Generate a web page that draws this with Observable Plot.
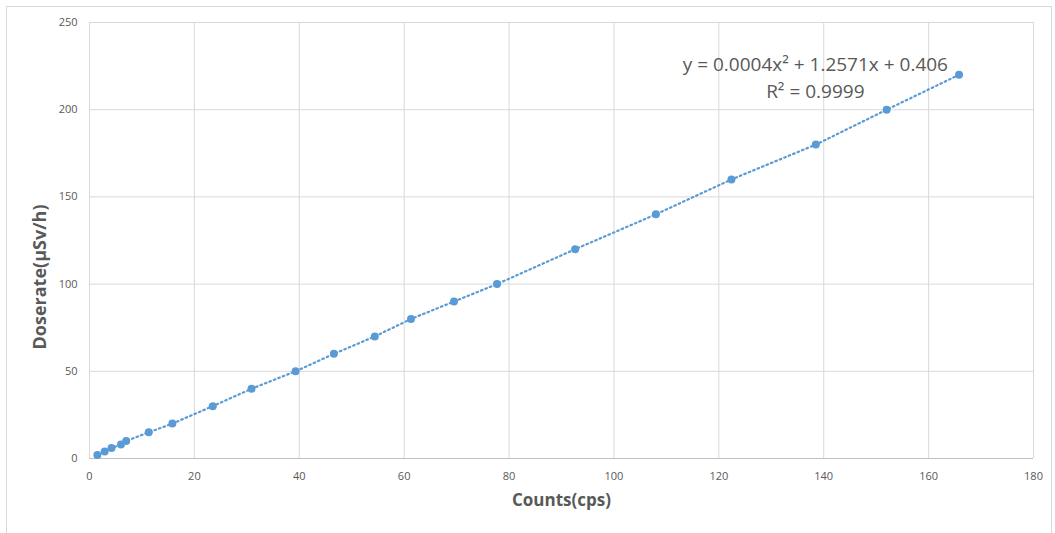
<!DOCTYPE html>
<html>
<head>
<meta charset="utf-8">
<script src="https://cdn.jsdelivr.net/npm/d3@7"></script>
<script src="https://cdn.jsdelivr.net/npm/@observablehq/plot@0.6"></script>
<style>
  html, body { margin: 0; padding: 0; background: #fff; }
  #wrap { position: relative; width: 1055px; height: 533px; }
  #border { position: absolute; left: 6px; top: 6px; width: 1046px; height: 530px; border: 1px solid #d9d9d9; box-sizing: border-box; pointer-events: none; }
</style>
</head>
<body>
<div id="wrap"><div id="border"></div></div>
<script>
const counts = [1.5, 2.9, 4.2, 6.0, 7.0, 11.3, 15.8, 23.5, 30.9, 39.3, 46.6, 54.4, 61.3, 69.5, 77.7, 92.6, 108.0, 122.4, 138.5, 152.0, 165.8];
const doserate = [2, 4, 6, 8, 10, 15, 20, 30, 40, 50, 60, 70, 80, 90, 100, 120, 140, 160, 180, 200, 220];
const xTicks = [0, 20, 40, 60, 80, 100, 120, 140, 160, 180];
const yTicks = [0, 50, 100, 150, 200, 250];
const equationLines = ["y = 0.0004x\u00B2 + 1.2571x + 0.406", "R\u00B2 = 0.9999"];
const equationPos = [[138.4, 225.4], [138.4, 210]];

const data = counts.map((c, i) => ({x: c, y: doserate[i]}));
const labels = equationLines.map((t, i) => ({text: t, x: equationPos[i][0], y: equationPos[i][1]}));

const blue = "#5b9bd5";
const grid = "#d9d9d9";
const txt = "#595959";

const chart = Plot.plot({
  width: 1055,
  height: 533,
  marginLeft: 89,
  marginRight: 22,
  marginTop: 22,
  marginBottom: 75,
  style: {fontFamily: "'Open Sans', sans-serif", fontSize: "11px", color: txt, background: "transparent"},
  x: {domain: [0, 180], ticks: xTicks, label: null},
  y: {domain: [0, 250], ticks: yTicks, label: null},
  marks: [
    Plot.gridX(xTicks, {stroke: grid, strokeOpacity: 1, strokeWidth: 1}),
    Plot.gridY(yTicks, {stroke: grid, strokeOpacity: 1, strokeWidth: 1}),
    Plot.ruleY([0], {stroke: "#bfbfbf"}),
    Plot.axisX(xTicks, {tickSize: 0, tickPadding: 14, fill: txt, fontSize: 11, label: null}),
    Plot.axisY(yTicks, {tickSize: 0, tickPadding: 12, fill: txt, fontSize: 11, label: null}),
    Plot.line(data, {x: "x", y: "y", stroke: blue, strokeWidth: 2.2, strokeDasharray: "1.6,3.2", strokeLinecap: "round"}),
    Plot.dot(data, {x: "x", y: "y", r: 4, fill: blue, stroke: "none"}),
    Plot.text(labels, {x: "x", y: "y", text: "text", fill: txt, fontSize: 19, textAnchor: "middle"}),
    Plot.text(["Counts(cps)"], {frameAnchor: "bottom", dy: 47, fill: txt, fontSize: 17, fontWeight: "bold"}),
    Plot.text(["Doserate(\u03BCSv/h)"], {frameAnchor: "left", textAnchor: "start", dx: -49, dy: 109, rotate: -90, fill: txt, fontSize: 18, fontWeight: "bold"})
  ]
});
document.getElementById("wrap").prepend(chart);
chart.style.position = "absolute";
chart.style.left = "0";
chart.style.top = "0";
</script>
</body>
</html>
